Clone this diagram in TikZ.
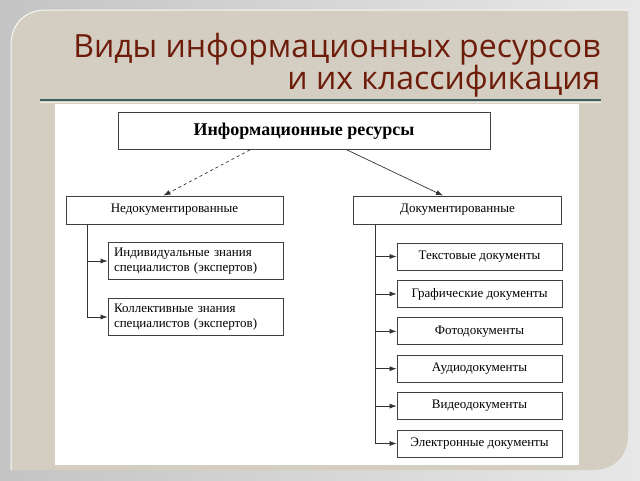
\documentclass[tikz,border=0pt]{standalone}
\usepackage{fontspec}
\usetikzlibrary{arrows.meta}
\setmainfont{Liberation Serif}
\newfontfamily\titlefont{Open Sans}
\definecolor{slidegray}{RGB}{196,196,196}
\definecolor{slidelight}{RGB}{232,232,232}
\definecolor{panelbeige}{RGB}{211,206,193}
\definecolor{titlebrown}{RGB}{110,28,10}
\definecolor{ruleteal}{RGB}{62,96,96}
\tikzset{
  box/.style={draw=black!75, fill=white, line width=0.8pt, inner sep=0pt, font=\fontsize{13}{15}\selectfont},
  link/.style={black!80, line width=0.7pt, -{Latex[length=7pt,width=5pt]}}
}
\begin{document}
\begin{tikzpicture}[x=1pt,y=-1pt]
%\draw [help lines,black!20!white] (0,0) grid[step=20] (640,480);
\useasboundingbox (0,0) rectangle (640,480);

\shade[left color=slidegray, right color=slidelight] (0,0) rectangle (640,480);
\fill[panelbeige] (11,470) -- (11,45) .. controls (11,24) and (25,10) .. (46,10)
  -- (628,10) -- (628,435) .. controls (628,456) and (614,470) .. (593,470) -- cycle;
\draw[white!85!panelbeige, line width=1pt] (11,470) -- (11,45) .. controls (11,24) and (25,10) .. (46,10) -- (628,10);

\node[anchor=base east, text=titlebrown, font=\titlefont\fontsize{32}{36}\selectfont] (title1) at (604,57) {Виды информационных ресурсов};
\node[anchor=base east, text=titlebrown, font=\titlefont\fontsize{32}{36}\selectfont] (title2) at (604,89) {и их классификация};
\draw[ruleteal, line width=1.3pt] (40,100) -- (601,100);
\draw[white!70!panelbeige, line width=0.8pt] (40,102) -- (601,102);

\fill[white] (55,104) rectangle (579,465);

\node[box, minimum width=372, minimum height=37, font=\fontsize{18}{20}\selectfont\bfseries] (res) at (304,131) {Информационные ресурсы};
\node[box, minimum width=217, minimum height=28] (undoc) at (174.5,210) {Недокументированные};
\node[box, minimum width=208, minimum height=28] (doc) at (457.5,210) {Документированные};

\draw[link, dashed] ([xshift=-54pt]res.south) -- ([xshift=-11pt]undoc.north);
\draw[link] ([xshift=43pt]res.south) -- ([xshift=-14.5pt]doc.north);

\node[box, minimum width=175, minimum height=37, align=left, text width=163] (indiv) at (195.5,261) {Индивидуальные знания\\специалистов (экспертов)};
\node[box, minimum width=175, minimum height=37, align=left, text width=163] (coll) at (195.5,317) {Коллективные знания\\специалистов (экспертов)};

\draw[link] ([xshift=-87.5pt]undoc.south) |- (indiv.west);
\draw[link] ([xshift=-87.5pt]undoc.south) |- (coll.west);

\foreach \name [count=\i from 0] in {Текстовые документы, Графические документы, Фотодокументы, Аудиодокументы, Видеодокументы, Электронные документы}{
  \node[box, minimum width=165, minimum height=27] (kind\i) at (479.5,{256.5+37.4*\i}) {\name};
  \draw[link] ([xshift=-82.5pt]doc.south) |- (kind\i.west);
}

\end{tikzpicture}
\end{document}
